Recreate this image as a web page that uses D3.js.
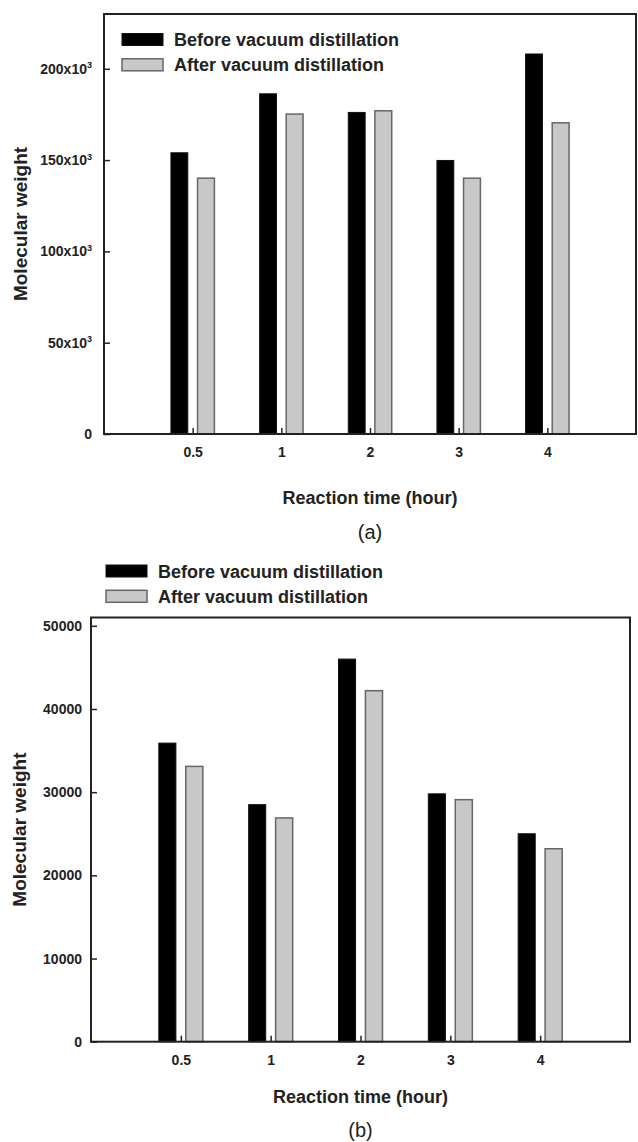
<!DOCTYPE html>
<html>
<head>
<meta charset="utf-8">
<script src="https://cdn.jsdelivr.net/npm/d3@7"></script>
<style>
  body { margin: 0; background: #fff; }
  svg { display: block; font-family: "Liberation Sans", Arial, sans-serif; }
</style>
</head>
<body>
<div id="chart"></div>
<script>
// reaction time categories (same for both panels)
var categories = ["0.5", "1", "2", "3", "4"];

// panel (a)
var beforeA = [154000, 186300, 176100, 149800, 208100];
var afterA = [140100, 175200, 177000, 140100, 170400];
var yTicksA = [0, 50000, 100000, 150000, 200000];

// panel (b)
var beforeB = [35900, 28500, 46000, 29800, 25000];
var afterB = [33100, 26900, 42200, 29100, 23200];
var yTicksB = [0, 10000, 20000, 30000, 40000, 50000];

var seriesNames = ["Before vacuum distillation", "After vacuum distillation"];

var svgWidth = 638;
var svgHeight = 1142;

var svg = d3.select("#chart")
    .append("svg")
    .attr("width", svgWidth)
    .attr("height", svgHeight);

// draws one bar panel inside the given box
function drawPanel(p) {
    var g = svg.append("g")
        .attr("transform", `translate(${p.left}, ${p.top})`);

    var width = p.right - p.left;
    var height = p.bottom - p.top;

    var xScale = d3.scaleLinear().domain([0, 6]).range([0, width]);
    var yScale = d3.scaleLinear().domain([0, p.yMax]).range([height, 0]);

    var barW = 0.19;
    var rows = categories.map(function (c, i) {
        return { idx: i + 1, before: p.before[i], after: p.after[i] };
    });

    // before bars (black)
    g.selectAll(".bar-before")
        .data(rows)
        .enter()
        .append("rect")
        .attr("x", d => xScale(d.idx - 0.15 - barW / 2))
        .attr("y", d => yScale(d.before))
        .attr("width", xScale(barW) - xScale(0))
        .attr("height", d => height - yScale(d.before))
        .attr("fill", "#000")
        .attr("stroke", "#111")
        .attr("stroke-width", 1);

    // after bars (grey)
    g.selectAll(".bar-after")
        .data(rows)
        .enter()
        .append("rect")
        .attr("x", d => xScale(d.idx + 0.15 - barW / 2))
        .attr("y", d => yScale(d.after))
        .attr("width", xScale(barW) - xScale(0))
        .attr("height", d => height - yScale(d.after))
        .attr("fill", "#c8c8c8")
        .attr("stroke", "#666")
        .attr("stroke-width", 1.5);

    // x axis, ticks pointing inward
    var xAxis = d3.axisBottom(xScale)
        .tickValues([1, 2, 3, 4, 5])
        .tickFormat(i => categories[i - 1])
        .tickSizeInner(-6)
        .tickSizeOuter(0)
        .tickPadding(13.5);

    var gx = g.append("g")
        .attr("transform", `translate(0, ${height})`)
        .call(xAxis);

    // y axis, ticks pointing inward
    var yAxis = d3.axisLeft(yScale)
        .tickValues(p.yTicks)
        .tickFormat(d3.format("d"))
        .tickSizeInner(-6)
        .tickSizeOuter(0)
        .tickPadding(p.yPad);

    var gy = g.append("g").call(yAxis);

    [gx, gy].forEach(function (ax) {
        ax.select(".domain").remove();
        ax.selectAll(".tick line").attr("stroke", "#222").attr("stroke-width", 1.5);
        ax.selectAll(".tick text")
            .attr("fill", "#222")
            .attr("font-size", 14)
            .attr("font-weight", "bold");
    });

    // "x10^3" style labels for panel (a)
    if (p.sciLabels) {
        gy.selectAll(".tick text").each(function (d) {
            var t = d3.select(this);
            t.text(null);
            if (d === 0) {
                t.text("0");
                return;
            }
            t.append("tspan").text((d / 1000) + "x10");
            t.append("tspan")
                .attr("font-size", 9)
                .attr("dy", "-0.6em")
                .text("3");
        });
    }

    // frame
    g.append("rect")
        .attr("x", 0)
        .attr("y", 0)
        .attr("width", width)
        .attr("height", height)
        .attr("fill", "none")
        .attr("stroke", "#222")
        .attr("stroke-width", 2);

    // axis titles
    svg.append("text")
        .attr("transform", `translate(${p.yTitleX}, ${p.top + height / 2}) rotate(-90)`)
        .attr("text-anchor", "middle")
        .attr("dominant-baseline", "central")
        .attr("font-size", 19)
        .attr("font-weight", "bold")
        .attr("fill", "#222")
        .text("Molecular weight");

    svg.append("text")
        .attr("x", p.left + width / 2)
        .attr("y", p.xTitleY)
        .attr("text-anchor", "middle")
        .attr("font-size", 18)
        .attr("font-weight", "bold")
        .attr("fill", "#222")
        .text("Reaction time (hour)");

    svg.append("text")
        .attr("x", p.left + width / 2)
        .attr("y", p.labelY)
        .attr("text-anchor", "middle")
        .attr("font-size", 20)
        .attr("fill", "#222")
        .text(p.label);

    // legend
    var legend = svg.append("g")
        .attr("transform", `translate(${p.legendX}, ${p.legendY})`);

    seriesNames.forEach(function (name, i) {
        legend.append("rect")
            .attr("x", 0)
            .attr("y", i * 25.3)
            .attr("width", 41)
            .attr("height", 12)
            .attr("fill", i === 0 ? "#000" : "#c8c8c8")
            .attr("stroke", i === 0 ? "#111" : "#666")
            .attr("stroke-width", i === 0 ? 1 : 1.5);
        legend.append("text")
            .attr("x", 52)
            .attr("y", i * 25.3 + 12.6)
            .attr("font-size", 18)
            .attr("font-weight", "bold")
            .attr("fill", "#222")
            .text(name);
    });
}

drawPanel({
    left: 104, right: 636, top: 14, bottom: 434,
    yMax: 230000, yTicks: yTicksA, yPad: 12, sciLabels: true,
    before: beforeA, after: afterA,
    yTitleX: 20, xTitleY: 504, labelY: 539, label: "(a)",
    legendX: 122, legendY: 33.5
});

drawPanel({
    left: 91, right: 630, top: 617.5, bottom: 1041.7,
    yMax: 51000, yTicks: yTicksB, yPad: 9, sciLabels: false,
    before: beforeB, after: afterB,
    yTitleX: 19, xTitleY: 1103, labelY: 1137, label: "(b)",
    legendX: 106, legendY: 565
});
</script>
</body>
</html>
